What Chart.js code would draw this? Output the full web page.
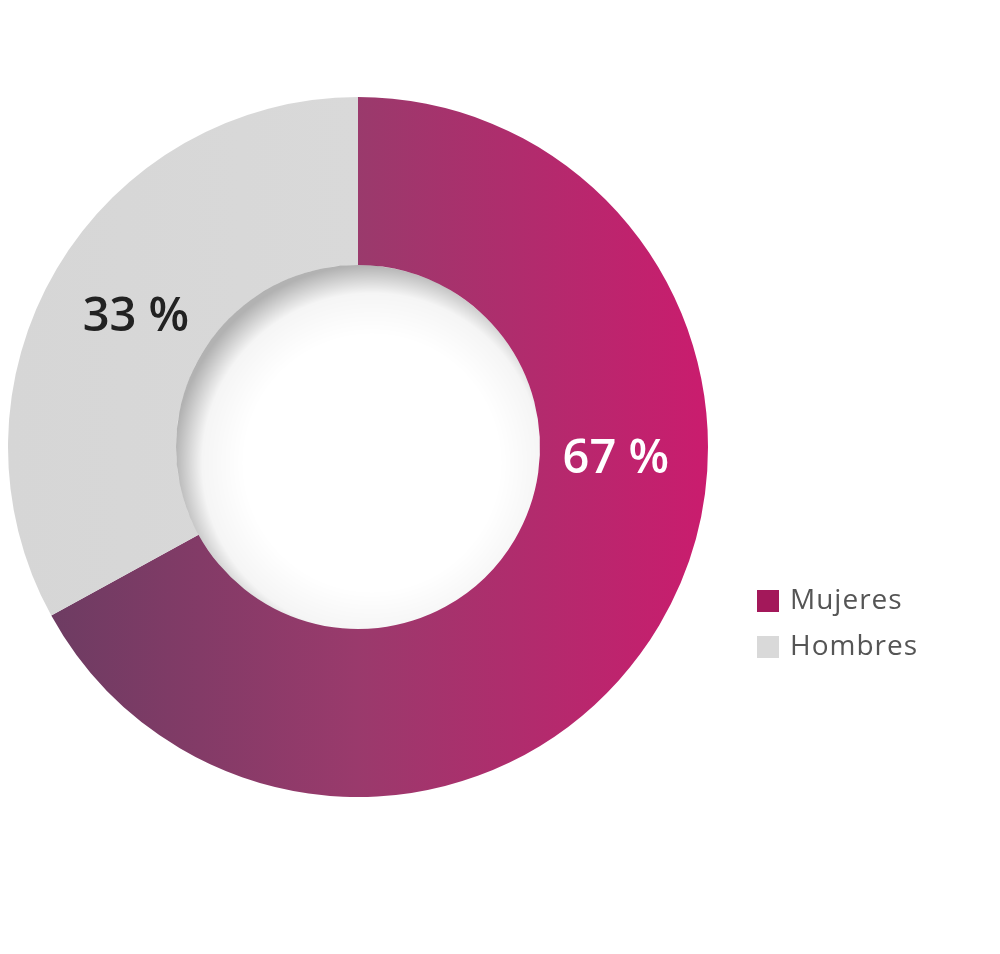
<!DOCTYPE html>
<html>
<head>
<meta charset="utf-8">
<script src="https://cdn.jsdelivr.net/npm/chart.js@4.4.1/dist/chart.umd.min.js"></script>
<style>
  html, body { margin: 0; padding: 0; background: #fff; }
  #wrap { width: 1000px; height: 954px; position: relative; }
</style>
</head>
<body>
<div id="wrap"><canvas id="chart" width="1000" height="954"></canvas></div>
<script>
// Chart data
const labels = ['Mujeres', 'Hombres'];
const values = [67, 33];
const legendColors = ['#a3185a', '#d9d9d9'];
const labelColors = ['#ffffff', '#222222'];

// gradient for the big slice, across the donut width
function sliceColor(context) {
    const chart = context.chart;
    const area = chart.chartArea;
    if (!area) return legendColors[context.dataIndex];
    if (context.dataIndex === 1) {
        const g = chart.ctx.createLinearGradient(area.left, 0, area.right, 0);
        g.addColorStop(0, '#d6d6d6');
        g.addColorStop(1, '#dcdcdc');
        return g;
    }
    const g = chart.ctx.createLinearGradient(area.left, 0, area.right, 0);
    g.addColorStop(0, '#673c61');
    g.addColorStop(0.5, '#9a3a6c');
    g.addColorStop(1, '#ca1c6e');
    return g;
}

// soft inset shadow in the hole
const holeShadow = {
    id: 'holeShadow',
    afterDatasetsDraw(chart) {
        const arc = chart.getDatasetMeta(0).data[0];
        if (!arc) return;
        const { x, y, innerRadius } = arc.getProps(['x', 'y', 'innerRadius'], true);
        const ctx = chart.ctx;
        ctx.save();
        ctx.beginPath();
        ctx.arc(x, y, innerRadius, 0, Math.PI * 2);
        ctx.clip();
        const g = ctx.createRadialGradient(x + 14, y + 16, innerRadius * 0.7, x + 14, y + 16, innerRadius + 16);
        g.addColorStop(0, 'rgba(0,0,0,0)');
        g.addColorStop(0.6, 'rgba(0,0,0,0.04)');
        g.addColorStop(1, 'rgba(0,0,0,0.3)');
        ctx.fillStyle = g;
        ctx.fillRect(x - innerRadius, y - innerRadius, innerRadius * 2, innerRadius * 2);
        ctx.restore();
    }
};

// percentage labels on the ring
const sliceLabels = {
    id: 'sliceLabels',
    afterDraw(chart, args, opts) {
        const ctx = chart.ctx;
        const meta = chart.getDatasetMeta(0);
        ctx.save();
        ctx.font = '600 47px "Open Sans", sans-serif';
        ctx.textAlign = 'center';
        ctx.textBaseline = 'middle';
        meta.data.forEach((arc, i) => {
            const p = arc.getProps(['x', 'y', 'startAngle', 'endAngle', 'innerRadius', 'outerRadius'], true);
            let ang = (p.startAngle + p.endAngle) / 2;
            if (opts.angles && opts.angles[i] != null) ang = opts.angles[i];
            const r = opts.radius || (p.innerRadius + p.outerRadius) / 2;
            ctx.fillStyle = labelColors[i];
            ctx.fillText(values[i] + ' %', p.x + Math.cos(ang) * r, p.y + Math.sin(ang) * r + 2);
        });
        ctx.restore();
    }
};

// legend on the right, lower half
const sideLegend = {
    id: 'sideLegend',
    afterDraw(chart) {
        const ctx = chart.ctx;
        ctx.save();
        ctx.font = '28px "Open Sans", sans-serif';
        ctx.letterSpacing = '1px';
        ctx.textBaseline = 'middle';
        ctx.textAlign = 'left';
        labels.forEach((name, i) => {
            const top = 590 + i * 46;
            ctx.fillStyle = legendColors[i];
            ctx.fillRect(757, top, 22, 22);
            ctx.fillStyle = '#555555';
            ctx.fillText(name, 790, top + 11);
        });
        ctx.restore();
    }
};

new Chart(document.getElementById('chart').getContext('2d'), {
    type: 'doughnut',
    data: {
        labels: labels,
        datasets: [{
            data: values,
            backgroundColor: sliceColor,
            borderWidth: 0,
            hoverOffset: 0
        }]
    },
    options: {
        responsive: false,
        animation: false,
        cutout: '52%',
        layout: { padding: { left: 8, right: 292, top: 97, bottom: 157 } },
        plugins: {
            legend: { display: false },
            tooltip: { enabled: false },
            sliceLabels: { angles: [0.04, null], radius: 258 }
        }
    },
    plugins: [holeShadow, sliceLabels, sideLegend]
});
</script>
</body>
</html>
